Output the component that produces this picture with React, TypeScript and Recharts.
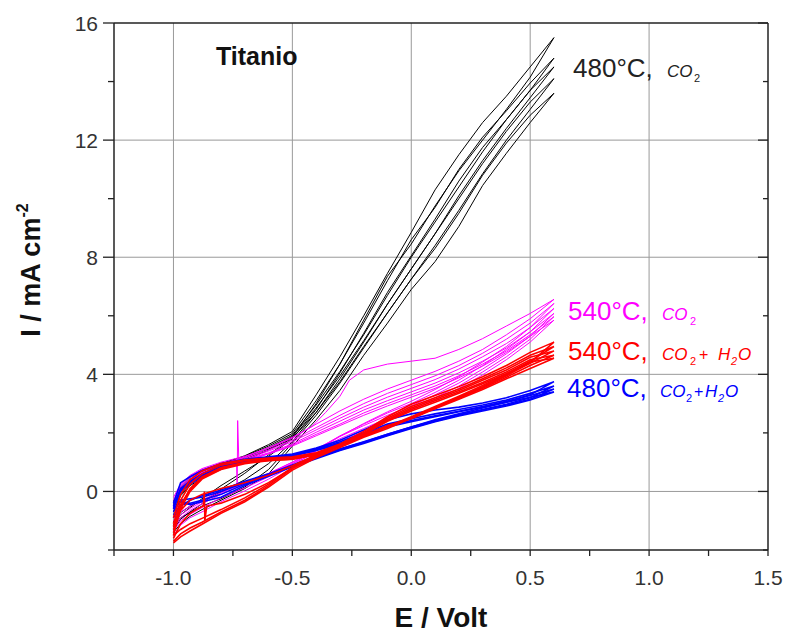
import React from 'react';
import { LineChart, Line, XAxis, YAxis, CartesianGrid } from 'recharts';

type P = [number, number];

// ---- axes ----
const X_TICKS = [-1.25, -1.0, -0.75, -0.5, -0.25, 0, 0.25, 0.5, 0.75, 1.0, 1.25, 1.5];
const X_MAJOR = [-1.0, -0.5, 0.0, 0.5, 1.0, 1.5];
const Y_TICKS = [-2, 0, 2, 4, 6, 8, 10, 12, 14, 16];
const Y_MAJOR = [0, 4, 8, 12, 16];
const X_GRID = [-1.0, -0.5, 0, 0.5, 1.0];
const Y_GRID = [0, 4, 8, 12];

// ---- 480°C, CO2 (black) ----
const B1: P[] = [[-1.0,-1.3],[-0.97,-0.95],[-0.93,-0.7],[-0.88,-0.42],[-0.8,0.08],[-0.7,0.62],[-0.6,1.25],[-0.5,1.85],[-0.4,3.0],[-0.3,4.35],[-0.2,5.85],[-0.1,7.35],[0,8.45],[0.1,9.75],[0.2,10.95],[0.3,12.0],[0.4,13.05],[0.5,14.15],[0.6,15.5],
  [0.5,14.5],[0.4,13.5],[0.3,12.6],[0.2,11.5],[0.1,10.3],[0,8.85],[-0.1,7.45],[-0.2,6.0],[-0.3,4.6],[-0.4,3.3],[-0.5,2.05],[-0.6,1.6],[-0.7,1.22],[-0.8,0.95],[-0.88,0.72],[-0.93,0.48],[-0.97,0.15],[-1.0,-0.35]];
const B2: P[] = [[-1.0,-1.15],[-0.97,-0.8],[-0.93,-0.55],[-0.88,-0.25],[-0.8,0.2],[-0.7,0.7],[-0.6,1.2],[-0.5,1.8],[-0.4,2.8],[-0.3,4.05],[-0.2,5.4],[-0.1,6.8],[0,8.05],[0.1,9.3],[0.2,10.6],[0.3,11.75],[0.4,12.7],[0.5,13.7],[0.6,14.8],
  [0.5,13.95],[0.4,13.0],[0.3,12.1],[0.2,11.0],[0.1,9.7],[0,8.6],[-0.1,7.2],[-0.2,5.75],[-0.3,4.35],[-0.4,3.1],[-0.5,1.98],[-0.6,1.55],[-0.7,1.2],[-0.8,0.92],[-0.88,0.68],[-0.93,0.42],[-0.97,0.1],[-1.0,-0.45]];
const B3: P[] = [[-1.0,-1.05],[-0.97,-0.72],[-0.93,-0.5],[-0.88,-0.3],[-0.8,-0.02],[-0.7,0.4],[-0.6,0.95],[-0.5,1.7],[-0.4,2.7],[-0.3,3.85],[-0.2,5.1],[-0.1,6.4],[0,7.6],[0.1,8.8],[0.2,10.1],[0.3,11.3],[0.4,12.4],[0.5,13.45],[0.6,14.5],
  [0.5,13.7],[0.4,12.7],[0.3,11.6],[0.2,10.4],[0.1,9.2],[0,8.0],[-0.1,6.7],[-0.2,5.35],[-0.3,4.1],[-0.4,2.95],[-0.5,1.92],[-0.6,1.5],[-0.7,1.15],[-0.8,0.85],[-0.88,0.55],[-0.93,0.3],[-0.97,0.0],[-1.0,-0.5]];
const B4: P[] = [[-1.0,-1.2],[-0.97,-0.9],[-0.93,-0.72],[-0.88,-0.5],[-0.8,-0.25],[-0.7,0.15],[-0.6,0.75],[-0.5,1.65],[-0.4,2.6],[-0.3,3.7],[-0.2,4.9],[-0.1,6.1],[0,7.25],[0.1,8.4],[0.2,9.6],[0.3,10.85],[0.4,12.0],[0.5,13.05],[0.6,14.1],
  [0.5,13.3],[0.4,12.3],[0.3,11.2],[0.2,10.0],[0.1,8.8],[0,7.6],[-0.1,6.4],[-0.2,5.15],[-0.3,3.95],[-0.4,2.85],[-0.5,1.88],[-0.6,1.45],[-0.7,1.1],[-0.8,0.8],[-0.88,0.5],[-0.93,0.25],[-0.97,-0.1],[-1.0,-0.6]];
const B5: P[] = [[-1.0,-1.4],[-0.97,-1.1],[-0.93,-0.85],[-0.88,-0.62],[-0.8,-0.3],[-0.7,0.1],[-0.6,0.6],[-0.5,1.55],[-0.4,2.45],[-0.3,3.45],[-0.2,4.65],[-0.1,5.75],[0,6.9],[0.1,7.85],[0.2,9.05],[0.3,10.45],[0.4,11.55],[0.5,12.6],[0.6,13.6],
  [0.5,12.85],[0.4,11.9],[0.3,10.8],[0.2,9.5],[0.1,8.3],[0,7.25],[-0.1,6.1],[-0.2,4.95],[-0.3,3.75],[-0.4,2.7],[-0.5,1.82],[-0.6,1.42],[-0.7,1.05],[-0.8,0.75],[-0.88,0.45],[-0.93,0.2],[-0.97,-0.15],[-1.0,-0.7]];

// ---- 540°C, CO2 (magenta) ----
const M0: P[] = [[-1.0,-0.6],[-0.97,0.0],[-0.93,0.4],[-0.88,0.62],[-0.8,0.9],[-0.7,1.18],[-0.6,1.5],[-0.5,1.85],[-0.42,2.2],[-0.36,2.7],[-0.3,3.25],[-0.26,3.8],[-0.2,4.15],[-0.1,4.35],[0,4.45],[0.1,4.55],[0.2,4.85],[0.3,5.22],[0.4,5.65],[0.5,6.08],[0.6,6.56],
  [0.5,5.9],[0.4,5.35],[0.3,4.85],[0.2,4.45],[0.1,4.1],[0,3.8],[-0.1,3.5],[-0.2,3.15],[-0.3,2.75],[-0.4,2.3],[-0.5,1.82],[-0.6,1.48],[-0.7,1.2],[-0.8,1.0],[-0.88,0.78],[-0.93,0.55],[-0.97,0.25],[-1.0,-0.2]];
const M1: P[] = [[-1.0,-1.5],[-0.97,-1.15],[-0.93,-0.9],[-0.88,-0.7],[-0.8,-0.35],[-0.7,0.02],[-0.6,0.42],[-0.5,0.88],[-0.4,1.38],[-0.3,1.88],[-0.2,2.32],[-0.1,2.72],[0,3.08],[0.1,3.48],[0.2,3.92],[0.3,4.42],[0.4,4.95],[0.5,5.6],[0.6,6.42],
  [0.5,5.75],[0.4,5.2],[0.3,4.72],[0.2,4.3],[0.1,3.95],[0,3.65],[-0.1,3.35],[-0.2,3.0],[-0.3,2.6],[-0.4,2.18],[-0.5,1.75],[-0.6,1.42],[-0.7,1.15],[-0.8,0.95],[-0.88,0.75],[-0.93,0.52],[-0.97,0.2],[-1.0,-0.3]];
const M2: P[] = [[-1.0,-1.35],[-0.97,-1.0],[-0.93,-0.78],[-0.88,-0.55],[-0.8,-0.22],[-0.7,0.12],[-0.6,0.5],[-0.5,0.95],[-0.4,1.42],[-0.3,1.9],[-0.2,2.3],[-0.1,2.68],[0,3.0],[0.1,3.38],[0.2,3.8],[0.3,4.3],[0.4,4.85],[0.5,5.45],[0.6,6.25],
  [0.5,5.6],[0.4,5.05],[0.3,4.6],[0.2,4.18],[0.1,3.82],[0,3.52],[-0.1,3.22],[-0.2,2.88],[-0.3,2.5],[-0.4,2.1],[-0.5,1.7],[-0.6,1.38],[-0.7,1.1],[-0.8,0.9],[-0.88,0.7],[-0.93,0.48],[-0.97,0.15],[-1.0,-0.4]];
const M3: P[] = [[-1.0,-1.25],[-0.97,-0.9],[-0.93,-0.65],[-0.88,-0.42],[-0.8,-0.1],[-0.7,0.25],[-0.6,0.6],[-0.5,1.0],[-0.4,1.45],[-0.3,1.88],[-0.2,2.25],[-0.1,2.6],[0,2.92],[0.1,3.3],[0.2,3.7],[0.3,4.18],[0.4,4.7],[0.5,5.3],[0.6,6.08],
  [0.5,5.45],[0.4,4.9],[0.3,4.45],[0.2,4.05],[0.1,3.7],[0,3.4],[-0.1,3.1],[-0.2,2.78],[-0.3,2.4],[-0.4,2.02],[-0.5,1.62],[-0.6,1.32],[-0.7,1.08],[-0.725,1.05],[-0.73,2.42],[-0.732,0.18],[-0.735,1.0],[-0.8,0.85],[-0.88,0.65],[-0.93,0.42],[-0.97,0.1],[-1.0,-0.5]];
const M4: P[] = [[-1.0,-1.1],[-0.97,-0.8],[-0.93,-0.58],[-0.88,-0.35],[-0.8,-0.05],[-0.7,0.28],[-0.6,0.62],[-0.5,1.0],[-0.4,1.4],[-0.3,1.8],[-0.2,2.15],[-0.1,2.5],[0,2.82],[0.1,3.2],[0.2,3.6],[0.3,4.08],[0.4,4.6],[0.5,5.2],[0.6,5.97],
  [0.5,5.35],[0.4,4.8],[0.3,4.35],[0.2,3.95],[0.1,3.6],[0,3.3],[-0.1,3.0],[-0.2,2.68],[-0.3,2.3],[-0.4,1.95],[-0.5,1.58],[-0.6,1.3],[-0.7,1.05],[-0.8,0.85],[-0.88,0.62],[-0.93,0.4],[-0.97,0.05],[-1.0,-0.55]];
const M5: P[] = [[-1.0,-1.0],[-0.97,-0.7],[-0.93,-0.5],[-0.88,-0.3],[-0.8,0.0],[-0.7,0.3],[-0.6,0.6],[-0.5,0.95],[-0.4,1.32],[-0.3,1.7],[-0.2,2.05],[-0.1,2.42],[0,2.78],[0.1,3.12],[0.2,3.52],[0.3,3.98],[0.4,4.5],[0.5,5.1],[0.6,5.85],
  [0.5,5.3],[0.4,4.75],[0.3,4.28],[0.2,3.88],[0.1,3.52],[0,3.22],[-0.1,2.92],[-0.2,2.6],[-0.3,2.25],[-0.4,1.9],[-0.5,1.55],[-0.6,1.28],[-0.7,1.02],[-0.8,0.82],[-0.88,0.6],[-0.93,0.38],[-0.97,0.0],[-1.0,-0.6]];

// ---- 540°C, CO2 + H2O (red) ----
const R1: P[] = [[-1.0,-1.76],[-0.97,-1.55],[-0.93,-1.35],[-0.88,-1.12],[-0.8,-0.75],[-0.7,-0.35],[-0.6,0.15],[-0.5,0.73],[-0.4,1.15],[-0.3,1.5],[-0.2,1.85],[-0.1,2.15],[0,2.5],[0.1,2.85],[0.2,3.2],[0.3,3.55],[0.4,3.95],[0.5,4.4],[0.6,5.1],
  [0.5,4.75],[0.4,4.3],[0.3,3.92],[0.2,3.58],[0.1,3.28],[0,2.98],[-0.1,2.55],[-0.2,2.05],[-0.3,1.62],[-0.4,1.32],[-0.5,1.18],[-0.6,1.14],[-0.7,1.08],[-0.8,0.95],[-0.88,0.7],[-0.93,0.4],[-0.97,-0.1],[-1.0,-0.9]];
const R2: P[] = [[-1.0,-1.6],[-0.97,-1.1],[-0.93,-0.75],[-0.9,-0.6],[-0.875,-0.5],[-0.87,0.0],[-0.868,-1.0],[-0.86,-0.5],[-0.8,-0.4],[-0.7,-0.1],[-0.6,0.3],[-0.5,0.8],[-0.4,1.2],[-0.3,1.55],[-0.2,1.9],[-0.1,2.22],[0,2.55],[0.1,2.9],[0.2,3.25],[0.3,3.62],[0.4,4.02],[0.5,4.45],[0.6,4.95],
  [0.5,4.65],[0.4,4.22],[0.3,3.85],[0.2,3.5],[0.1,3.2],[0,2.9],[-0.1,2.5],[-0.2,2.0],[-0.3,1.58],[-0.4,1.3],[-0.5,1.15],[-0.6,1.12],[-0.7,1.05],[-0.8,0.9],[-0.88,0.6],[-0.93,0.25],[-0.97,-0.3],[-1.0,-1.1]];
const R3: P[] = [[-1.0,-1.7],[-0.97,-1.45],[-0.93,-1.25],[-0.88,-1.05],[-0.8,-0.7],[-0.7,-0.3],[-0.6,0.2],[-0.5,0.78],[-0.4,1.2],[-0.3,1.55],[-0.2,1.88],[-0.1,2.2],[0,2.52],[0.1,2.88],[0.2,3.22],[0.3,3.58],[0.4,3.98],[0.5,4.38],[0.6,4.8],
  [0.5,4.58],[0.4,4.15],[0.3,3.8],[0.2,3.45],[0.1,3.15],[0,2.85],[-0.1,2.45],[-0.2,1.98],[-0.3,1.56],[-0.4,1.28],[-0.5,1.12],[-0.6,1.1],[-0.7,1.0],[-0.8,0.82],[-0.88,0.5],[-0.93,0.1],[-0.97,-0.5],[-1.0,-1.3]];
const R4: P[] = [[-1.0,-1.5],[-0.97,-1.3],[-0.93,-1.1],[-0.88,-0.92],[-0.8,-0.62],[-0.7,-0.22],[-0.6,0.25],[-0.5,0.82],[-0.4,1.22],[-0.3,1.58],[-0.2,1.9],[-0.1,2.22],[0,2.5],[0.1,2.85],[0.2,3.18],[0.3,3.52],[0.4,3.9],[0.5,4.3],[0.6,4.65],
  [0.5,4.5],[0.4,4.08],[0.3,3.72],[0.2,3.4],[0.1,3.1],[0,2.8],[-0.1,2.42],[-0.2,1.96],[-0.3,1.55],[-0.4,1.26],[-0.5,1.1],[-0.6,1.06],[-0.7,0.98],[-0.8,0.78],[-0.88,0.45],[-0.93,0.05],[-0.97,-0.45],[-1.0,-1.2]];
const R5: P[] = [[-1.0,-1.4],[-0.97,-0.65],[-0.93,-0.3],[-0.88,-0.1],[-0.8,0.1],[-0.7,0.3],[-0.6,0.55],[-0.5,0.88],[-0.4,1.25],[-0.3,1.6],[-0.2,1.92],[-0.1,2.25],[0,2.48],[0.1,2.82],[0.2,3.15],[0.3,3.48],[0.4,3.85],[0.5,4.2],[0.6,4.55],
  [0.5,4.42],[0.4,4.02],[0.3,3.68],[0.2,3.35],[0.1,3.05],[0,2.75],[-0.1,2.4],[-0.2,1.95],[-0.3,1.55],[-0.4,1.25],[-0.5,1.1],[-0.6,1.05],[-0.7,0.95],[-0.8,0.75],[-0.88,0.42],[-0.93,0.0],[-0.97,-0.6],[-1.0,-1.5]];

// ---- 480°C, CO2 + H2O (blue) ----
const L1: P[] = [[-1.0,-0.9],[-0.97,-0.5],[-0.93,-0.3],[-0.88,-0.15],[-0.8,0.05],[-0.7,0.35],[-0.6,0.6],[-0.5,0.9],[-0.4,1.2],[-0.3,1.45],[-0.2,1.7],[-0.1,1.95],[0,2.2],[0.1,2.45],[0.2,2.65],[0.3,2.85],[0.4,3.05],[0.5,3.3],[0.6,3.75],
  [0.5,3.45],[0.4,3.2],[0.3,3.02],[0.2,2.88],[0.1,2.78],[0,2.65],[-0.1,2.45],[-0.2,2.1],[-0.3,1.75],[-0.4,1.48],[-0.5,1.28],[-0.6,1.18],[-0.7,1.1],[-0.8,0.95],[-0.88,0.72],[-0.93,0.5],[-0.97,0.3],[-1.0,-0.4]];
const L2: P[] = [[-1.0,-0.7],[-0.97,-0.3],[-0.93,-0.25],[-0.88,-0.2],[-0.8,0.0],[-0.7,0.3],[-0.6,0.58],[-0.5,0.88],[-0.4,1.18],[-0.3,1.45],[-0.2,1.68],[-0.1,1.95],[0,2.2],[0.1,2.42],[0.2,2.62],[0.3,2.8],[0.4,2.98],[0.5,3.2],[0.6,3.6],
  [0.5,3.35],[0.4,3.12],[0.3,2.95],[0.2,2.8],[0.1,2.65],[0,2.48],[-0.1,2.3],[-0.2,2.0],[-0.3,1.7],[-0.4,1.45],[-0.5,1.25],[-0.6,1.15],[-0.7,1.05],[-0.8,0.9],[-0.88,0.6],[-0.93,0.35],[-0.97,0.1],[-1.0,-0.5]];
const L3: P[] = [[-1.0,-0.8],[-0.97,-0.45],[-0.93,-0.4],[-0.88,-0.3],[-0.8,-0.1],[-0.7,0.25],[-0.6,0.55],[-0.5,0.86],[-0.4,1.15],[-0.3,1.42],[-0.2,1.66],[-0.1,1.92],[0,2.18],[0.1,2.4],[0.2,2.6],[0.3,2.78],[0.4,2.95],[0.5,3.15],[0.6,3.5],
  [0.5,3.28],[0.4,3.08],[0.3,2.9],[0.2,2.74],[0.1,2.58],[0,2.42],[-0.1,2.25],[-0.2,1.95],[-0.3,1.65],[-0.4,1.42],[-0.5,1.22],[-0.6,1.12],[-0.7,1.02],[-0.8,0.85],[-0.88,0.55],[-0.93,0.3],[-0.97,0.05],[-1.0,-0.6]];
const L4: P[] = [[-1.0,-0.6],[-0.97,-0.35],[-0.93,-0.45],[-0.88,-0.35],[-0.8,-0.2],[-0.7,0.2],[-0.6,0.52],[-0.5,0.84],[-0.4,1.12],[-0.3,1.4],[-0.2,1.64],[-0.1,1.9],[0,2.15],[0.1,2.38],[0.2,2.58],[0.3,2.75],[0.4,2.92],[0.5,3.12],[0.6,3.4],
  [0.5,3.22],[0.4,3.05],[0.3,2.88],[0.2,2.72],[0.1,2.55],[0,2.38],[-0.1,2.2],[-0.2,1.92],[-0.3,1.62],[-0.4,1.4],[-0.5,1.2],[-0.6,1.1],[-0.7,1.0],[-0.8,0.82],[-0.88,0.5],[-0.93,0.25],[-0.97,0.0],[-1.0,-0.55]];

const BLACK = [B1, B2, B3, B4, B5];
const MAGENTA = [M0, M1, M2, M3, M4, M5];
const RED = [R1, R2, R3, R4, R5];
const BLUE = [L1, L2, L3, L4];

const FONT = '"Liberation Sans", Arial, sans-serif';
const near = (a: number[], v: number) => a.some((m) => Math.abs(m - v) < 1e-9);
const toObj = (a: P[]) => a.map(([x, y]) => ({ x, y }));

const BottomTick = (p: any) => {
  const v = p.payload.value;
  const major = near(X_MAJOR, v);
  return (
    <g>
      <line x1={p.x} x2={p.x} y1={p.y} y2={p.y + 6} stroke="#222" strokeWidth={1.3} />
      {major && (
        <text x={p.x} y={p.y + 35} textAnchor="middle" fontSize={21} fill="#333" fontFamily={FONT}>
          {v.toFixed(1)}
        </text>
      )}
    </g>
  );
};
const TopTick = (p: any) => {
  const major = near(X_MAJOR, p.payload.value);
  return <line x1={p.x} x2={p.x} y1={p.y} y2={p.y + (major ? 10 : 5)} stroke="#222" strokeWidth={1.3} />;
};
const LeftTick = (p: any) => {
  const v = p.payload.value;
  const major = near(Y_MAJOR, v);
  return (
    <g>
      <line x1={p.x - (major ? 11 : 6)} x2={p.x} y1={p.y} y2={p.y} stroke="#222" strokeWidth={1.3} />
      {major && (
        <text x={p.x - 16} y={p.y + 8} textAnchor="end" fontSize={21} fill="#333" fontFamily={FONT}>
          {String(v)}
        </text>
      )}
    </g>
  );
};
const RightTick = (p: any) => {
  const major = near(Y_MAJOR, p.payload.value);
  return <line x1={p.x - (major ? 10 : 5)} x2={p.x} y1={p.y} y2={p.y} stroke="#222" strokeWidth={1.3} />;
};

const axisLine = { stroke: '#222', strokeWidth: 1.5 };

export default function App() {
  const groups: { arr: P[][]; color: string; w: number; id: string }[] = [
    { arr: BLACK, color: '#000000', w: 1, id: 'k' },
    { arr: MAGENTA, color: '#ff00ff', w: 1, id: 'm' },
    { arr: BLUE, color: '#0000ff', w: 1.6, id: 'b' },
    { arr: RED, color: '#ff0000', w: 1.6, id: 'r' },
  ];
  const sub = { fontSize: 11 } as const;
  return (
    <div style={{ position: 'absolute', left: 0, top: 0, width: 785, height: 632, background: '#fff' }}>
      <LineChart width={785} height={632} margin={{ top: 22, right: 16, bottom: 81, left: 113 }}>
        <CartesianGrid stroke="#999" strokeWidth={1} horizontalValues={Y_GRID} verticalValues={X_GRID} />
        <XAxis dataKey="x" type="number" domain={[-1.25, 1.5]} ticks={X_TICKS} interval={0} height={1}
          tickSize={0} tickMargin={0} allowDataOverflow axisLine={axisLine} tickLine={false} tick={BottomTick} />
        <XAxis xAxisId="top" orientation="top" type="number" domain={[-1.25, 1.5]} ticks={X_TICKS} interval={0} height={1}
          tickSize={0} tickMargin={0} allowDataOverflow axisLine={axisLine} tickLine={false} tick={TopTick} />
        <YAxis type="number" domain={[-2, 16]} ticks={Y_TICKS} interval={0} width={1}
          tickSize={0} tickMargin={0} allowDataOverflow axisLine={axisLine} tickLine={false} tick={LeftTick} />
        <YAxis yAxisId="right" orientation="right" type="number" domain={[-2, 16]} ticks={Y_TICKS} interval={0} width={1}
          tickSize={0} tickMargin={0} allowDataOverflow axisLine={axisLine} tickLine={false} tick={RightTick} />
        {groups.map((g) =>
          g.arr.map((a, i) => (
            <Line key={g.id + i} data={toObj(a)} dataKey="y" type="linear" stroke={g.color} strokeWidth={g.w}
              dot={false} activeDot={false} isAnimationActive={false} />
          ))
        )}
        <text x={216} y={65} fontSize={25} fontWeight="bold" fill="#111" fontFamily={FONT}>Titanio</text>
        <text x={573} y={77} fontSize={26} fill="#222" fontFamily={FONT}>
          480°C,<tspan x={667} fontSize={17} fontStyle="italic">CO</tspan><tspan x={694} dy={5} {...sub}>2</tspan>
        </text>
        <text x={568} y={320} fontSize={26} fill="#ff00ff" fontFamily={FONT}>
          540°C,<tspan x={662} fontSize={17} fontStyle="italic">CO</tspan><tspan x={690} dy={5} {...sub}>2</tspan>
        </text>
        <text x={568} y={360} fontSize={26} fill="#ff0000" fontFamily={FONT}>
          540°C,<tspan x={662} fontSize={17} fontStyle="italic">CO</tspan><tspan x={690} dy={5} {...sub}>2</tspan>
          <tspan x={699} dy={-5} fontSize={16}>+</tspan>
          <tspan x={718} fontSize={17} fontStyle="italic">H</tspan><tspan x={731} dy={5} {...sub} fontStyle="italic">2</tspan>
          <tspan x={738} dy={-5} fontSize={17} fontStyle="italic">O</tspan>
        </text>
        <text x={567} y={397} fontSize={26} fill="#0000ff" fontFamily={FONT}>
          480°C,<tspan x={660} fontSize={17} fontStyle="italic">CO</tspan><tspan x={686} dy={5} {...sub}>2</tspan>
          <tspan x={694} dy={-5} fontSize={16}>+</tspan>
          <tspan x={705} fontSize={17} fontStyle="italic">H</tspan><tspan x={718} dy={5} {...sub} fontStyle="italic">2</tspan>
          <tspan x={725} dy={-5} fontSize={17} fontStyle="italic">O</tspan>
        </text>
        <text x={441} y={627} textAnchor="middle" fontSize={28} fontWeight="bold" fill="#111" fontFamily={FONT}>E / Volt</text>
        <text transform="translate(40,270) rotate(-90)" textAnchor="middle" fontSize={27} fontWeight="bold" fill="#111" fontFamily={FONT}>
          I / mA cm<tspan fontSize={16} dy={-12}>-2</tspan>
        </text>
      </LineChart>
    </div>
  );
}
